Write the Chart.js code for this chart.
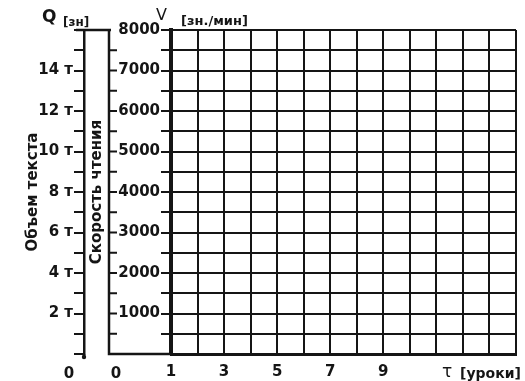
<!DOCTYPE html>
<html lang="ru">
<head>
  <meta charset="UTF-8">
  <title>Скорость чтения</title>
  <script src="https://cdn.jsdelivr.net/npm/chart.js"></script>
  <style>
    body {
      margin: 0;
      background: #fff;
    }
    #chartBox {
      width: 525px;
      height: 381px;
    }
  </style>
</head>
<body>
  <div id="chartBox">
    <canvas id="readingChart" width="525" height="381"></canvas>
  </div>

  <script>
    // lessons (x axis)
    const lessonRange = [1, 14];
    const lessonLabels = [1, 3, 5, 7, 9];

    // reading speed, chars per minute (main y axis)
    const speedRange = [0, 8000];
    const speedStep = 500;
    const speedLabels = [1000, 2000, 3000, 4000, 5000, 6000, 7000, 8000];

    // text volume, thousand chars (outer y axis)
    const volumeRange = [0, 16];
    const volumeLabels = [2, 4, 6, 8, 10, 12, 14];

    const INK = '#151515';
    const FONT = 'DejaVu Sans';

    // extra hand-ruled parts of the blank: inner speed line, captions, zeros
    const blankAxes = {
      id: 'blankAxes',
      afterDraw(chart) {
        const { ctx, chartArea, scales } = chart;
        const x = scales.x, y = scales.y, q = scales.q;
        const y0 = y.getPixelForValue(speedRange[0]);
        const yTop = y.getPixelForValue(speedRange[1]);
        const vx = y.left + 25;

        ctx.save();
        ctx.strokeStyle = INK;
        ctx.fillStyle = INK;
        ctx.lineWidth = 2.5;

        // inner speed line and its bottom bar
        ctx.beginPath();
        ctx.moveTo(vx, yTop);
        ctx.lineTo(vx, y0);
        ctx.lineTo(chartArea.left, y0);
        ctx.stroke();

        // top bar joining both vertical lines
        const qTop = q.getPixelForValue(volumeRange[1]);
        ctx.beginPath();
        ctx.moveTo(q.right - 8, qTop);
        ctx.lineTo(vx + 2, qTop);
        ctx.stroke();

        // short ticks to the right of the inner line
        ctx.lineWidth = 2;
        for (let v = speedRange[0] + speedStep; v < speedRange[1]; v += speedStep) {
          const py = y.getPixelForValue(v);
          ctx.beginPath();
          ctx.moveTo(vx, py);
          ctx.lineTo(vx + 8, py);
          ctx.stroke();
        }

        // tail of the volume line
        ctx.lineWidth = 2.5;
        ctx.beginPath();
        ctx.moveTo(q.right, y0);
        ctx.lineTo(q.right, y0 + 3);
        ctx.stroke();
        ctx.beginPath();
        ctx.arc(q.right, y0 + 3, 2.2, 0, Math.PI * 2);
        ctx.fill();

        // axis captions at the top
        ctx.textBaseline = 'alphabetic';
        ctx.textAlign = 'left';
        ctx.font = 'bold 17px ' + FONT;
        ctx.fillText('Q', 42, 22);
        ctx.font = 'bold 12px ' + FONT;
        ctx.fillText('[зн]', 63, 26);
        ctx.font = '16px ' + FONT;
        ctx.fillText('V', 156, 20);
        ctx.font = 'bold 13px ' + FONT;
        ctx.fillText('[зн./мин]', 181, 25);

        // zeros under the two vertical axes and the lesson caption
        const baseY = 378;
        ctx.textAlign = 'center';
        ctx.font = 'bold 15px ' + FONT;
        ctx.fillText('0', q.right - 15, baseY);
        ctx.fillText('0', vx + 7, baseY);
        const tauX = x.getPixelForValue(11.4);
        ctx.font = '17px ' + FONT;
        ctx.fillText('τ', tauX, baseY - 1);
        ctx.textAlign = 'left';
        ctx.font = 'bold 14px ' + FONT;
        ctx.fillText('[уроки]', tauX + 13, baseY);
        ctx.restore();
      }
    };

    new Chart(document.getElementById('readingChart'), {
      type: 'scatter',
      data: { datasets: [] },
      options: {
        responsive: false,
        animation: false,
        layout: { padding: { top: 30, right: 9, left: 0, bottom: 0 } },
        plugins: {
          legend: { display: false },
          tooltip: { enabled: false }
        },
        scales: {
          x: {
            type: 'linear',
            position: 'bottom',
            min: lessonRange[0],
            max: lessonRange[1],
            afterFit: s => { s.height = 27; },
            ticks: {
              stepSize: 1,
              autoSkip: false,
              maxRotation: 0,
              padding: 9,
              color: INK,
              font: { family: FONT, size: 15, weight: 'bold' },
              callback: v => lessonLabels.includes(v) ? String(v) : ''
            },
            grid: { color: INK, lineWidth: 2, drawTicks: false },
            border: { color: INK, width: 3 }
          },
          y: {
            type: 'linear',
            position: 'left',
            weight: 0,
            min: speedRange[0],
            max: speedRange[1],
            afterFit: s => { s.width = 87; },
            title: {
              display: true,
              text: 'Скорость чтения',
              color: INK,
              font: { family: FONT, size: 15, weight: 'bold' },
              padding: { top: 4, bottom: 10 }
            },
            ticks: {
              stepSize: speedStep,
              autoSkip: false,
              padding: 1,
              color: INK,
              font: { family: FONT, size: 15, weight: 'bold' },
              callback: v => speedLabels.includes(v) ? String(v) : ''
            },
            grid: { color: INK, lineWidth: 2, tickLength: 10 },
            border: { color: INK, width: 4 }
          },
          q: {
            type: 'linear',
            axis: 'y',
            position: 'left',
            weight: 1,
            min: volumeRange[0],
            max: volumeRange[1],
            afterFit: s => { s.width = 84; },
            title: {
              display: true,
              text: 'Объем текста',
              color: INK,
              font: { family: FONT, size: 15, weight: 'bold' },
              padding: { top: 24, bottom: 4 }
            },
            ticks: {
              stepSize: 1,
              autoSkip: false,
              padding: 1,
              color: INK,
              font: { family: FONT, size: 15, weight: 'bold' },
              callback: v => volumeLabels.includes(v) ? v + ' т' : ''
            },
            grid: { color: INK, lineWidth: 2, tickLength: 10, drawOnChartArea: false },
            border: { color: INK, width: 2.5 }
          }
        }
      },
      plugins: [blankAxes]
    });
  </script>
</body>
</html>
